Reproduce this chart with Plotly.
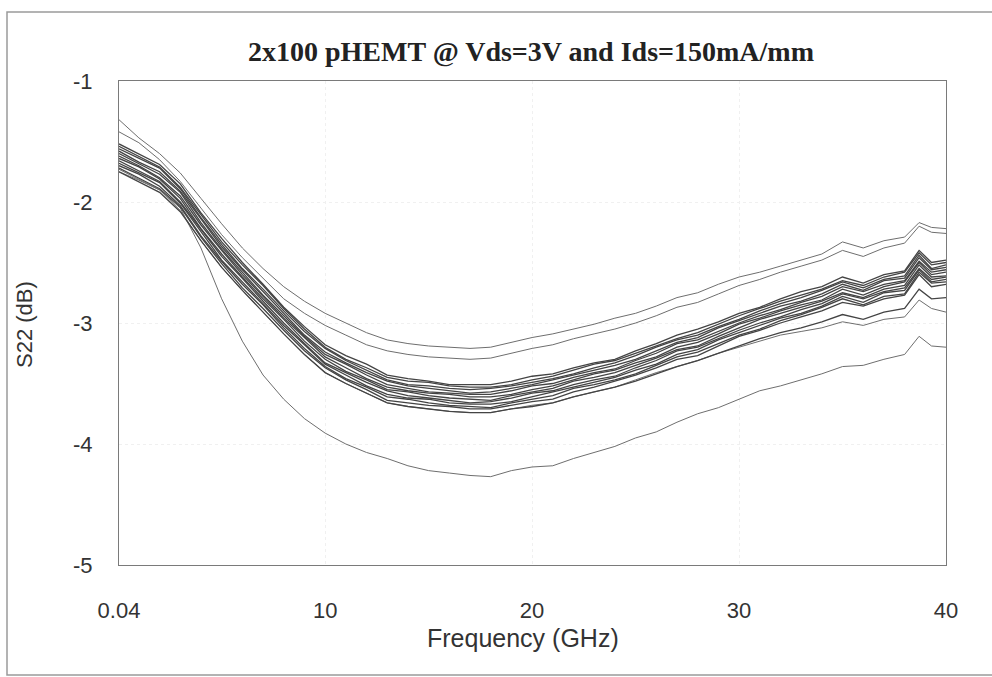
import plotly.graph_objects as go

# Frequency points (GHz)
freq = [0.04, 1, 2, 3, 4, 5, 6, 7, 8, 9, 10, 11, 12, 13, 14, 15, 16, 17, 18, 19, 20,
        21, 22, 23, 24, 25, 26, 27, 28, 29, 30, 31, 32, 33, 34, 35, 36, 37, 38, 38.7, 39.3, 40]

# S22 (dB) of the outlying devices
dev_a = [-1.32, -1.47, -1.60, -1.76, -1.97, -2.18, -2.38, -2.55, -2.70, -2.82, -2.92, -3.00, -3.08, -3.14, -3.17, -3.19, -3.20, -3.21, -3.20, -3.16, -3.12, -3.09, -3.05, -3.01, -2.96, -2.92, -2.86, -2.79, -2.75, -2.68, -2.62, -2.58, -2.53, -2.48, -2.43, -2.33, -2.38, -2.32, -2.29, -2.17, -2.21, -2.22]
dev_b = [-1.42, -1.51, -1.65, -1.83, -2.05, -2.27, -2.46, -2.63, -2.80, -2.92, -3.02, -3.10, -3.18, -3.23, -3.26, -3.28, -3.29, -3.30, -3.29, -3.25, -3.21, -3.18, -3.13, -3.09, -3.05, -3.00, -2.94, -2.87, -2.83, -2.76, -2.69, -2.64, -2.58, -2.53, -2.48, -2.40, -2.45, -2.38, -2.34, -2.20, -2.25, -2.26]
dev_c = [-1.73, -1.81, -1.90, -2.07, -2.32, -2.54, -2.73, -2.91, -3.09, -3.26, -3.41, -3.50, -3.58, -3.66, -3.69, -3.71, -3.73, -3.74, -3.74, -3.71, -3.68, -3.66, -3.61, -3.57, -3.53, -3.47, -3.41, -3.36, -3.31, -3.25, -3.20, -3.15, -3.10, -3.07, -3.04, -2.99, -3.02, -2.97, -2.95, -2.81, -2.88, -2.91]
dev_e = [-1.75, -1.82, -1.90, -2.05, -2.38, -2.80, -3.15, -3.43, -3.63, -3.79, -3.91, -4.00, -4.07, -4.12, -4.18, -4.22, -4.24, -4.26, -4.27, -4.22, -4.19, -4.18, -4.12, -4.07, -4.02, -3.95, -3.90, -3.82, -3.75, -3.70, -3.63, -3.56, -3.52, -3.47, -3.42, -3.36, -3.35, -3.30, -3.26, -3.11, -3.19, -3.20]

# S22 (dB) of the devices in the main bundle
dev_01 = [-1.52, -1.60, -1.69, -1.85, -2.09, -2.30, -2.50, -2.68, -2.87, -3.03, -3.18, -3.27, -3.34, -3.43, -3.46, -3.48, -3.51, -3.51, -3.51, -3.48, -3.44, -3.42, -3.37, -3.33, -3.30, -3.23, -3.17, -3.10, -3.05, -2.99, -2.92, -2.87, -2.80, -2.74, -2.70, -2.62, -2.67, -2.60, -2.57, -2.40, -2.50, -2.48]
dev_02 = [-1.54, -1.62, -1.71, -1.88, -2.11, -2.33, -2.52, -2.69, -2.88, -3.05, -3.20, -3.30, -3.37, -3.45, -3.48, -3.49, -3.52, -3.53, -3.53, -3.51, -3.47, -3.44, -3.39, -3.34, -3.31, -3.25, -3.19, -3.13, -3.08, -3.01, -2.94, -2.88, -2.82, -2.77, -2.72, -2.65, -2.69, -2.62, -2.58, -2.42, -2.52, -2.50]
dev_03 = [-1.56, -1.64, -1.72, -1.89, -2.13, -2.35, -2.55, -2.72, -2.90, -3.07, -3.21, -3.31, -3.39, -3.47, -3.51, -3.52, -3.54, -3.55, -3.54, -3.52, -3.49, -3.46, -3.42, -3.37, -3.33, -3.27, -3.20, -3.14, -3.10, -3.03, -2.97, -2.90, -2.84, -2.79, -2.73, -2.66, -2.71, -2.64, -2.61, -2.44, -2.55, -2.52]
dev_04 = [-1.58, -1.67, -1.75, -1.91, -2.14, -2.37, -2.56, -2.74, -2.92, -3.10, -3.24, -3.33, -3.41, -3.48, -3.52, -3.54, -3.56, -3.58, -3.57, -3.54, -3.51, -3.47, -3.43, -3.39, -3.35, -3.30, -3.23, -3.16, -3.12, -3.04, -2.98, -2.92, -2.86, -2.82, -2.76, -2.68, -2.73, -2.65, -2.63, -2.46, -2.56, -2.54]
dev_05 = [-1.60, -1.68, -1.77, -1.92, -2.17, -2.39, -2.58, -2.77, -2.94, -3.11, -3.26, -3.34, -3.43, -3.51, -3.54, -3.57, -3.58, -3.59, -3.59, -3.56, -3.52, -3.50, -3.45, -3.41, -3.38, -3.31, -3.25, -3.17, -3.14, -3.07, -3.00, -2.94, -2.89, -2.83, -2.78, -2.70, -2.74, -2.68, -2.65, -2.49, -2.58, -2.56]
dev_06 = [-1.62, -1.70, -1.80, -1.95, -2.19, -2.40, -2.60, -2.78, -2.96, -3.12, -3.28, -3.37, -3.46, -3.53, -3.56, -3.58, -3.59, -3.61, -3.61, -3.59, -3.55, -3.52, -3.47, -3.42, -3.39, -3.33, -3.28, -3.20, -3.16, -3.09, -3.01, -2.96, -2.90, -2.85, -2.81, -2.72, -2.77, -2.70, -2.66, -2.50, -2.60, -2.58]
dev_07 = [-1.64, -1.71, -1.81, -1.97, -2.22, -2.43, -2.62, -2.80, -2.97, -3.15, -3.30, -3.40, -3.47, -3.55, -3.57, -3.60, -3.62, -3.63, -3.64, -3.60, -3.57, -3.54, -3.48, -3.45, -3.41, -3.35, -3.29, -3.22, -3.19, -3.11, -3.04, -2.97, -2.92, -2.87, -2.82, -2.75, -2.79, -2.72, -2.69, -2.52, -2.62, -2.61]
dev_08 = [-1.66, -1.74, -1.83, -2.00, -2.23, -2.45, -2.63, -2.82, -3.00, -3.17, -3.33, -3.41, -3.49, -3.56, -3.60, -3.62, -3.64, -3.66, -3.65, -3.62, -3.58, -3.56, -3.51, -3.47, -3.44, -3.37, -3.31, -3.23, -3.20, -3.13, -3.06, -3.00, -2.95, -2.89, -2.84, -2.76, -2.80, -2.74, -2.71, -2.55, -2.64, -2.62]
dev_09 = [-1.68, -1.76, -1.84, -2.01, -2.25, -2.48, -2.66, -2.84, -3.02, -3.18, -3.34, -3.43, -3.52, -3.59, -3.62, -3.63, -3.66, -3.67, -3.67, -3.65, -3.61, -3.57, -3.53, -3.49, -3.45, -3.39, -3.34, -3.26, -3.22, -3.14, -3.08, -3.02, -2.96, -2.92, -2.86, -2.78, -2.83, -2.75, -2.73, -2.56, -2.66, -2.64]
dev_10 = [-1.70, -1.77, -1.87, -2.03, -2.28, -2.49, -2.68, -2.85, -3.04, -3.21, -3.36, -3.46, -3.53, -3.61, -3.63, -3.66, -3.68, -3.69, -3.70, -3.66, -3.63, -3.60, -3.54, -3.51, -3.47, -3.42, -3.35, -3.28, -3.24, -3.17, -3.10, -3.05, -2.98, -2.93, -2.87, -2.80, -2.85, -2.78, -2.76, -2.58, -2.67, -2.66]
dev_11 = [-1.72, -1.80, -1.89, -2.04, -2.29, -2.51, -2.71, -2.88, -3.06, -3.23, -3.37, -3.47, -3.55, -3.64, -3.66, -3.68, -3.69, -3.71, -3.71, -3.68, -3.65, -3.63, -3.57, -3.53, -3.48, -3.43, -3.37, -3.30, -3.27, -3.19, -3.11, -3.06, -3.00, -2.95, -2.90, -2.83, -2.86, -2.80, -2.77, -2.60, -2.70, -2.68]
dev_d = [-1.75, -1.83, -1.92, -2.08, -2.32, -2.54, -2.73, -2.91, -3.09, -3.26, -3.41, -3.50, -3.58, -3.66, -3.69, -3.71, -3.73, -3.74, -3.74, -3.71, -3.69, -3.66, -3.61, -3.57, -3.53, -3.48, -3.42, -3.36, -3.31, -3.25, -3.19, -3.13, -3.08, -3.04, -2.99, -2.93, -2.97, -2.91, -2.88, -2.72, -2.80, -2.79]

outliers = [dev_a, dev_b, dev_c, dev_e]
bundle = [dev_01, dev_02, dev_03, dev_04, dev_05, dev_06, dev_07, dev_08,
          dev_09, dev_10, dev_11, dev_d]

x_tickvals = [0.04, 10, 20, 30, 40]
x_ticktext = ["0.04", "10", "20", "30", "40"]
y_tickvals = [-5, -4, -3, -2, -1]
y_ticktext = ["-5", "-4", "-3", "-2", "-1"]

title_text = "2x100 pHEMT @ Vds=3V and Ids=150mA/mm"
x_title = "Frequency (GHz)"
y_title = "S22 (dB)"

fig = go.Figure()
for d in outliers:
    fig.add_trace(go.Scatter(x=freq, y=d, mode="lines",
                             line=dict(color="#6e6e6e", width=1),
                             showlegend=False, hoverinfo="skip"))
for d in bundle:
    fig.add_trace(go.Scatter(x=freq, y=d, mode="lines",
                             line=dict(color="#444444", width=1.3),
                             showlegend=False, hoverinfo="skip"))

# plot area geometry (pixels)
W, H = 992, 677
L, R, T, B = 119, 46, 81, 112
pw, ph = W - L - R, H - T - B

def px(xp):
    return (xp - L) / pw

def py(yp):
    return (H - B - yp) / ph

tick_font = dict(family="Liberation Sans, Arial", size=22, color="#333333")

fig.update_layout(
    width=W, height=H,
    margin=dict(l=L, r=R, t=T, b=B, pad=0),
    paper_bgcolor="white", plot_bgcolor="white",
    font=dict(family="Liberation Sans, Arial", color="#333333"),
    xaxis=dict(range=[0.04, 40], tickvals=x_tickvals, ticktext=x_ticktext,
               showline=True, mirror=True, linecolor="#7a7a7a", linewidth=1,
               showgrid=True, gridcolor="#f0f0f0", griddash="dot", gridwidth=1,
               zeroline=False, ticks="outside", ticklen=26, tickcolor="rgba(0,0,0,0)",
               tickfont=tick_font),
    yaxis=dict(range=[-5, -1], tickvals=y_tickvals, ticktext=y_ticktext,
               showline=True, mirror=True, linecolor="#7a7a7a", linewidth=1,
               showgrid=True, gridcolor="#f0f0f0", griddash="dot", gridwidth=1,
               zeroline=False, ticks="outside", ticklen=21, tickcolor="rgba(0,0,0,0)",
               tickfont=tick_font),
    annotations=[
        dict(text="<b>" + title_text + "</b>", xref="paper", yref="paper",
             x=px(531), y=py(51), xanchor="center", yanchor="middle", showarrow=False,
             font=dict(family="Liberation Serif, Times New Roman", size=28, color="#222222")),
        dict(text=x_title, xref="paper", yref="paper", x=px(523), y=py(638),
             xanchor="center", yanchor="middle", showarrow=False,
             font=dict(family="Liberation Sans, Arial", size=25, color="#333333")),
        dict(text=y_title, xref="paper", yref="paper", x=px(24), y=py(325),
             xanchor="center", yanchor="middle", showarrow=False, textangle=-90,
             font=dict(family="Liberation Sans, Arial", size=22, color="#333333")),
    ],
    shapes=[
        dict(type="rect", xref="paper", yref="paper",
             x0=px(7), x1=px(1000), y0=py(675), y1=py(12),
             line=dict(color="#9a9a9a", width=1.5), fillcolor="rgba(0,0,0,0)", layer="below"),
    ],
)

fig.write_html("out.html", config={"displayModeBar": False},
               post_script="document.body.style.margin='0';")
